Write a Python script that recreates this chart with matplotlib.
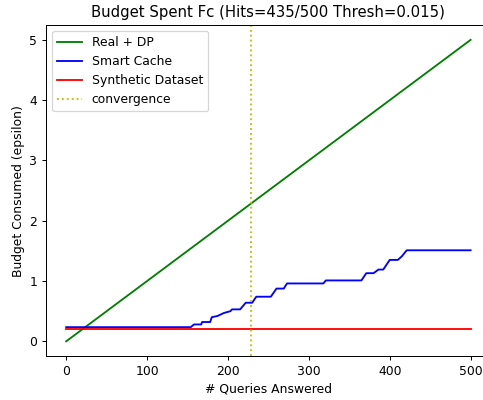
#!/usr/bin/env python

import matplotlib
matplotlib.use('Agg')
import matplotlib.pyplot as plt


n_queries = 500
total_budget = 5.0
synthetic_cost = 0.21
convergence_at = 229

# smart cache budget as (query, budget) breakpoints
cache_x = [0, 154, 158, 167, 168, 178, 180, 187, 195, 203, 205, 215, 222, 230,
           235, 253, 260, 269, 273, 318, 321, 365, 371, 380, 386, 392, 400, 410,
           415, 421, 500]
cache_y = [0.235, 0.235, 0.28, 0.28, 0.32, 0.32, 0.40, 0.42, 0.47, 0.50, 0.53, 0.53,
           0.64, 0.64, 0.74, 0.74, 0.875, 0.875, 0.96, 0.96, 1.01, 1.01, 1.13, 1.13,
           1.19, 1.19, 1.35, 1.35, 1.41, 1.51, 1.51]

title = 'Budget Spent Fc (Hits=435/500 Thresh=0.015)'


def main():
	dpi = 89.
	fig = plt.figure(figsize=(483 / dpi, 400 / dpi), dpi=dpi)
	ax = fig.add_axes([0.0952, 0.109, 0.921, 0.829])

	ax.plot([0, n_queries], [0, total_budget], color='g', label='Real + DP')
	ax.plot(cache_x, cache_y, color='b', label='Smart Cache')
	ax.plot([0, n_queries], [synthetic_cost, synthetic_cost], color='r', label='Synthetic Dataset')
	ax.axvline(convergence_at, color='y', linestyle=':', label='convergence')

	ax.set_title(title)
	ax.set_xlabel('# Queries Answered')
	ax.set_ylabel('Budget Consumed (epsilon)')
	ax.legend(loc='upper left')

	fig.savefig('out.png', dpi=dpi)


if __name__ == '__main__':
	main()
